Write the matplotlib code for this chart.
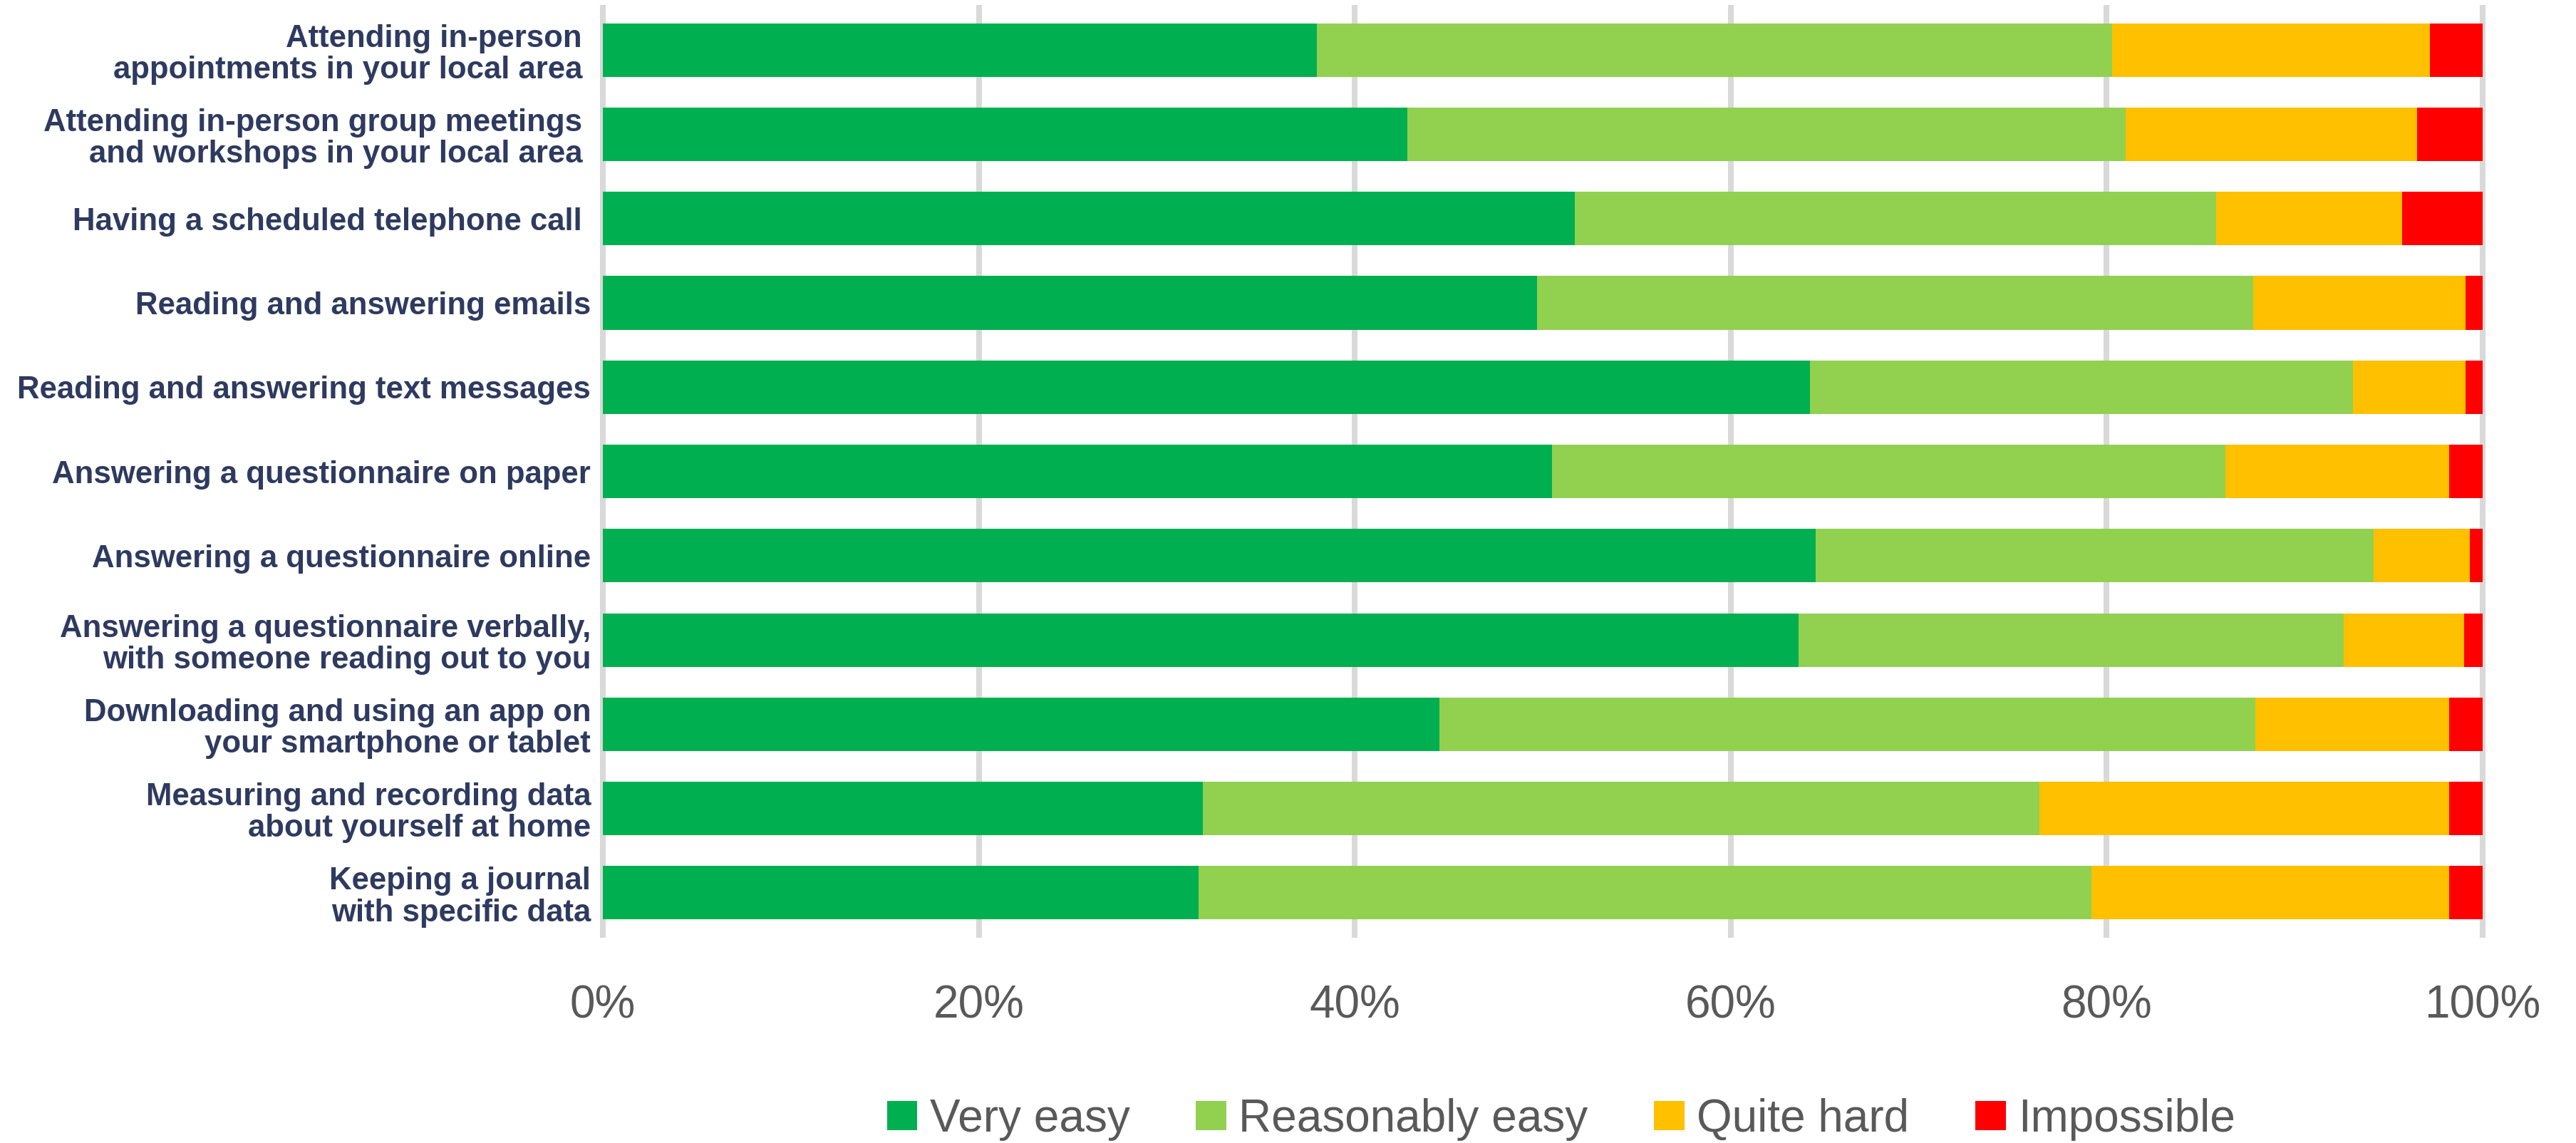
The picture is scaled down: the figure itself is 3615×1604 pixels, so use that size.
import matplotlib
matplotlib.use("Agg")
import matplotlib.pyplot as plt
from matplotlib.patches import Patch
import numpy as np

# survey rows, top to bottom
activities = [
    "Attending in-person \nappointments in your local area ",
    "Attending in-person group meetings \nand workshops in your local area ",
    "Having a scheduled telephone call ",
    "Reading and answering emails",
    "Reading and answering text messages",
    "Answering a questionnaire on paper",
    "Answering a questionnaire online",
    "Answering a questionnaire verbally,\nwith someone reading out to you",
    "Downloading and using an app on\nyour smartphone or tablet",
    "Measuring and recording data\nabout yourself at home",
    "Keeping a journal\nwith specific data",
]

# share of respondents (%) per answer
very_easy = [38.0, 42.8, 51.7, 49.7, 64.2, 50.5, 64.5, 63.6, 44.5, 31.9, 31.7]
reasonably_easy = [42.3, 38.2, 34.1, 38.1, 28.9, 35.8, 29.7, 29.0, 43.4, 44.5, 47.5]
quite_hard = [16.9, 15.5, 9.9, 11.3, 6.0, 11.9, 5.1, 6.4, 10.3, 21.8, 19.0]
impossible = [2.8, 3.5, 4.3, 0.9, 0.9, 1.8, 0.7, 1.0, 1.8, 1.8, 1.8]

series_names = ["Very easy", "Reasonably easy", "Quite hard", "Impossible"]
series_colors = ["#00B050", "#92D050", "#FFC000", "#FF0000"]
xticks = [0, 20, 40, 60, 80, 100]
xtick_labels = ["0%", "20%", "40%", "60%", "80%", "100%"]

fig = plt.figure(figsize=(36.15, 16.04), dpi=100)
ax = fig.add_axes([0.2340, 0.1820, 0.7298, 0.8111])

y = np.arange(len(activities))
left = np.zeros(len(activities))
for vals, name, col in zip([very_easy, reasonably_easy, quite_hard, impossible],
                           series_names, series_colors):
    ax.barh(y, vals, left=left, height=0.635, color=col, label=name, zorder=2)
    left += np.array(vals)

ax.set_xlim(0, 100)
ax.set_ylim(len(activities) - 0.5, -0.5)

ax.set_xticks(xticks)
ax.set_xticklabels(xtick_labels, fontsize=46, color="#595959", family="Liberation Sans")
ax.tick_params(axis="x", length=0, pad=50)

ax.set_yticks(y)
ax.set_yticklabels(activities, fontsize=31.5, fontweight="bold", color="#2E3A5F",
                   family="Liberation Sans", linespacing=1.1)
ax.tick_params(axis="y", length=0, pad=12)

ax.grid(axis="x", color="#D9D9D9", linewidth=5.8)
ax.grid(axis="y", visible=False)
ax.set_axisbelow(True)
for gl in ax.get_xgridlines():
    gl.set_clip_on(False)

for s in ax.spines.values():
    s.set_visible(False)

handles = [Patch(facecolor=c, edgecolor="none") for c in series_colors]
fig.legend(handles, series_names, loc="center", bbox_to_anchor=(0.606, 0.0206),
           ncol=4, frameon=False, prop={"family": "Liberation Sans", "size": 46},
           handlelength=0.67, handleheight=0.61, handletextpad=0.27,
           columnspacing=1.45, borderpad=0, labelcolor="#595959")

fig.savefig("out.png", dpi=100, facecolor="white")
